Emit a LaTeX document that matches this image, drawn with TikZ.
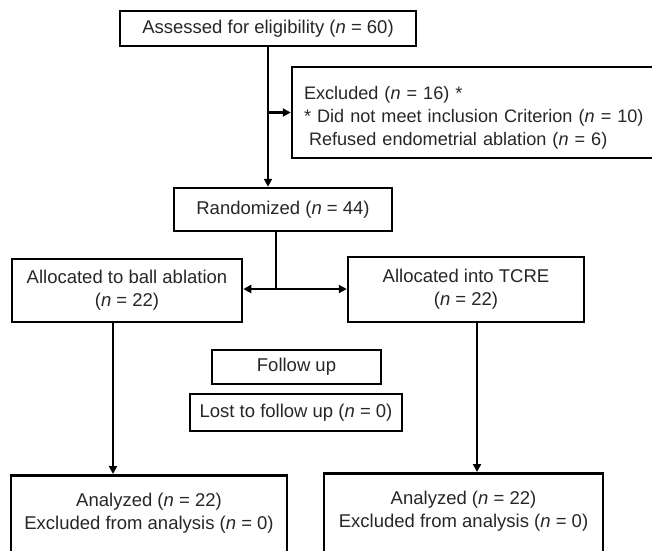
\documentclass[tikz,border=0pt]{standalone}
\usepackage{fontspec}
\setmainfont{Liberation Sans}
\usetikzlibrary{arrows.meta}
\begin{document}
\begin{tikzpicture}[x=1pt,y=-1pt,
  box/.style={draw=black, line width=2.5pt, inner sep=0pt, align=center,
    font=\fontsize{18.5}{23}\selectfont, text=black!85},
  arr/.style={line width=2.1pt, -{Triangle[length=8pt,width=8pt]}},
  ln/.style={line width=2.1pt}]
\useasboundingbox (0,0) rectangle (652,550);
\node[box, minimum width=296pt, minimum height=35pt] (assess) at (268,28.5)
  {Assessed for eligibility (\textit{n} = 60)};
\node[box, minimum width=364pt, minimum height=91pt, text width=340pt, align=left,
  font=\fontsize{18.1}{23}\selectfont] (excl) at (474,112.5)
  {\rule{0pt}{23pt}\mbox{Excluded (\textit{n} = 16) *}\\
   \mbox{* Did not meet inclusion Criterion (\textit{n} = 10)}\\
   \mbox{\hspace*{5pt}Refused endometrial ablation (\textit{n} = 6)}};
\node[box, minimum width=218pt, minimum height=43pt] (rand) at (283,209.5)
  {Randomized (\textit{n} = 44)};
\node[box, minimum width=230pt, minimum height=63pt] (allocL) at (127,290.5)
  {Allocated to ball ablation\\(\textit{n} = 22)};
\node[box, minimum width=236pt, minimum height=65pt] (allocR) at (466,289.5)
  {Allocated into TCRE\\(\textit{n} = 22)};
\node[box, minimum width=169pt, minimum height=34pt] (follow) at (296.5,367)
  {Follow up};
\node[box, minimum width=212pt, minimum height=37pt] (lost) at (296,412.5)
  {Lost to follow up (\textit{n} = 0)};
\node[box, anchor=north, minimum width=276pt, inner ysep=18pt] (anL) at (149,474)
  {Analyzed (\textit{n} = 22)\\Excluded from analysis (\textit{n} = 0)\\\rule{0pt}{40pt}};
\node[box, anchor=north, minimum width=279pt, inner ysep=18pt] (anR) at (463.5,472)
  {Analyzed (\textit{n} = 22)\\Excluded from analysis (\textit{n} = 0)\\\rule{0pt}{40pt}};
% connectors
\draw[arr] (assess.south) -- (assess.south |- rand.north);
\draw[arr] (assess.south |- excl.west) -- (excl.west);
\coordinate (j) at (276,289);
\draw[ln] (rand.south -| j) -- (j);
\draw[arr] (j) -- (allocL.east |- j);
\draw[arr] (j) -- (allocR.west |- j);
\coordinate (dl) at (113,0);
\coordinate (dr) at (477,0);
\draw[arr] (allocL.south -| dl) -- (anL.north -| dl);
\draw[arr] (allocR.south -| dr) -- (anR.north -| dr);
\end{tikzpicture}
\end{document}
